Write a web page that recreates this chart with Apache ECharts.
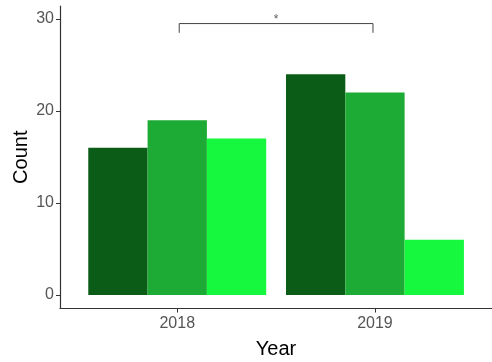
<!DOCTYPE html>
<html>
<head>
<meta charset="utf-8">
<script src="https://cdn.jsdelivr.net/npm/echarts@6/dist/echarts.min.js"></script>
<style>html,body{margin:0;padding:0;background:#fff;}#c{width:492px;height:362px;}</style>
</head>
<body>
<div id="c"></div>
<script>
var years = ['2018', '2019'];
var yearPos = [1, 2];
var group1 = [16, 24];
var group2 = [19, 22];
var group3 = [17, 6];
var yTicks = [0, 10, 20, 30];
var bracketX = [1.01, 1.99];
var bracketY = [28.5, 29.5];
var sigLabel = '*';

var colors = ['#0a5c17', '#1eab35', '#15f83d'];

function toData(vals) { return vals.map(function (v, i) { return [yearPos[i], v]; }); }

var chart = echarts.init(document.getElementById('c'), null, { renderer: 'canvas' });
var tickFont = { color: '#555', fontSize: 16, fontFamily: 'Liberation Sans, Arial, sans-serif' };
chart.setOption({
  animation: false,
  grid: { left: 60, right: 0, top: 6, bottom: 53.5, outerBoundsMode: 'none', containLabel: false },
  xAxis: {
    type: 'value', min: 0.407, max: 2.592,
    name: 'Year', nameLocation: 'middle', nameGap: 31,
    nameTextStyle: { color: '#000', fontSize: 20, fontFamily: 'Liberation Sans, Arial, sans-serif' },
    axisLine: { show: true, onZero: false, lineStyle: { color: '#333', width: 1.2 } },
    axisTick: { show: true, length: 4, customValues: yearPos, lineStyle: { color: '#333' } },
    axisLabel: Object.assign({ customValues: yearPos, margin: 7,
      formatter: function (v) { var i = yearPos.indexOf(v); return i >= 0 ? years[i] : ''; } }, tickFont),
    splitLine: { show: false }
  },
  yAxis: {
    type: 'value', min: -1.47, max: 31.41,
    name: 'Count', nameLocation: 'middle', nameGap: 29, nameRotate: 90, nameMoveOverlap: false,
    nameTextStyle: { color: '#000', fontSize: 20, fontFamily: 'Liberation Sans, Arial, sans-serif' },
    axisLine: { show: true, onZero: false, lineStyle: { color: '#333', width: 1.2 } },
    axisTick: { show: true, length: 4, customValues: yTicks, lineStyle: { color: '#333' } },
    axisLabel: Object.assign({ customValues: yTicks, margin: 6 }, tickFont),
    splitLine: { show: false }
  },
  series: [
    { type: 'bar', data: toData(group1), barGap: '0%', barCategoryGap: '10%', itemStyle: { color: colors[0] } },
    { type: 'bar', data: toData(group2), barGap: '0%', barCategoryGap: '10%', itemStyle: { color: colors[1] } },
    { type: 'bar', data: toData(group3), barGap: '0%', barCategoryGap: '10%', itemStyle: { color: colors[2] } },
    { type: 'line', symbol: 'none', silent: true,
      data: [[bracketX[0], bracketY[0]], [bracketX[0], bracketY[1]], [bracketX[1], bracketY[1]], [bracketX[1], bracketY[0]]],
      lineStyle: { color: '#444', width: 1 } },
    { type: 'scatter', symbolSize: 0, silent: true,
      data: [[(bracketX[0] + bracketX[1]) / 2, bracketY[1]]],
      label: { show: true, position: 'top', distance: -2, formatter: sigLabel, color: '#333', fontSize: 12 } }
  ]
});
</script>
</body>
</html>
